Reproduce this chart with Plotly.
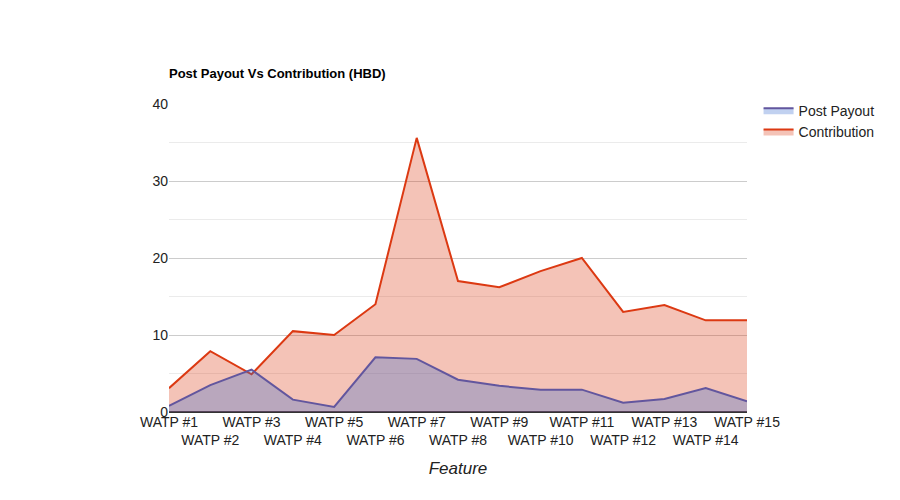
import plotly.graph_objects as go

categories = [f"WATP #{i}" for i in range(1, 16)]
payout = [0.8, 3.5, 5.5, 1.6, 0.65, 7.1, 6.9, 4.2, 3.4, 2.9, 2.9, 1.2, 1.7, 3.1, 1.4]
contribution = [3.1, 7.9, 4.9, 10.5, 10.0, 14.0, 35.6, 17.0, 16.2, 18.3, 20.0, 13.0, 13.9, 11.9, 11.9]

xs = list(range(len(categories)))
ticktext = [c if i % 2 == 0 else "<br>" + c for i, c in enumerate(categories)]

fig = go.Figure()
fig.add_trace(go.Scatter(x=xs, y=contribution, name="Contribution", mode="lines",
                         line=dict(color="#dc3912", width=2), fill="tozeroy",
                         fillcolor="rgba(220,57,18,0.3)", legendrank=2))
fig.add_trace(go.Scatter(x=xs, y=payout, name="Post Payout", mode="lines",
                         line=dict(color="#3366cc", width=2), fill="tozeroy",
                         fillcolor="rgba(51,102,204,0.3)", legendrank=1))
fig.data[1].line.color = "#62569e"

fig.update_layout(
    width=900, height=500, paper_bgcolor="white", plot_bgcolor="white",
    margin=dict(l=161, r=161, t=96, b=96, autoexpand=False),
    font=dict(family="Arial, Liberation Sans", size=14, color="#222"),
    title=dict(text="<b>Post Payout Vs Contribution (HBD)</b>", x=161/900, xanchor="left",
               y=1-65/500, yanchor="middle", font=dict(size=13, color="black")),
    xaxis=dict(range=[0, 14], tickmode="array", tickvals=xs, ticktext=ticktext,
               tickangle=0, automargin=False, tickfont=dict(size=14),
               showgrid=False, zeroline=False, ticks="",
               title=dict(text="<i>Feature</i>", standoff=14)),
    yaxis=dict(range=[0, 40], tickvals=[0, 10, 20, 30, 40], gridcolor="#cccccc",
               automargin=False, zeroline=True, zerolinecolor="#333", ticks="",
               minor=dict(dtick=5, showgrid=True, gridcolor="#ebebeb")),
    legend=dict(x=1.02, y=1.03, yanchor="top", xanchor="left", font=dict(size=14),
                bgcolor="rgba(0,0,0,0)", tracegroupgap=2),
)
fig.write_html("out.html")
